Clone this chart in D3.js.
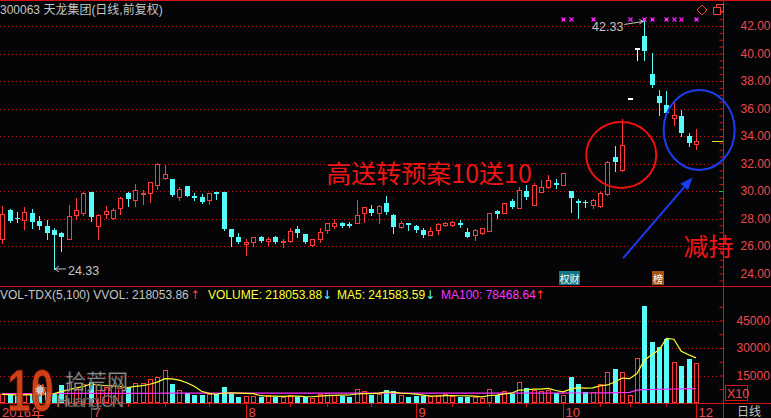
<!DOCTYPE html>
<html><head><meta charset="utf-8">
<script src="https://cdn.jsdelivr.net/npm/d3@7"></script>
<style>html,body{margin:0;padding:0;background:#050507;overflow:hidden}</style>
</head><body><svg id="c" width="771" height="418"></svg>
<script>
// ---------- data ----------
const open  = [26.51,28.62,28.06,27.89,28.43,27.84,27.46,27.16,26.92,26.51,28.25,28.38,29.93,27.48,28.33,28.01,28.74,29.83,29.35,29.79,29.88,30.44,30.97,30.85,29.54,30.37,29.64,29.59,29.35,29.91,29.93,27.21,26.68,26.12,26.27,26.63,26.39,26.68,26.29,26.39,27.21,26.87,26.05,26.49,27.16,27.46,27.65,27.58,27.65,28.43,28.67,28.43,29.10,28.26,27.36,27.65,27.48,27.16,26.80,27.16,27.51,27.53,27.70,27.04,26.80,26.92,27.12,28.57,28.43,29.27,28.74,30.02,28.98,29.95,30.32,30.61,30.44,30.00,29.30,29.23,28.98,28.91,29.78,32.50,31.53,36.69,40.36,41.27,38.51,36.91,36.25,35.28,35.45,34.00,33.42];
const high  = [28.91,28.68,28.50,28.86,28.69,28.18,27.89,27.29,27.04,28.98,29.47,29.95,29.93,28.30,28.91,28.79,29.59,29.95,30.51,30.07,30.68,32.01,31.89,30.85,30.32,30.37,29.88,29.78,29.88,29.91,29.93,27.21,26.92,26.51,26.68,26.70,26.63,26.73,26.53,27.29,27.46,26.87,26.49,27.29,27.70,27.94,27.77,27.72,29.35,28.86,28.98,28.98,29.64,28.33,27.85,27.70,27.53,27.33,27.36,27.70,27.77,27.85,27.89,27.29,27.21,27.33,28.43,28.62,29.10,29.40,30.32,30.44,30.61,30.80,31.16,30.85,31.33,30.00,29.40,29.35,29.40,29.95,32.21,33.27,35.21,36.69,40.36,42.33,40.01,37.35,37.27,36.57,35.89,34.24,34.51];
const low   = [26.19,27.75,27.77,27.24,27.33,27.21,26.51,24.33,25.64,26.50,27.96,28.26,27.84,26.51,28.01,27.96,28.33,28.91,28.93,29.05,29.23,30.12,30.85,29.64,29.35,29.64,29.35,29.10,29.05,29.40,27.16,26.00,26.24,25.35,26.00,26.30,26.07,26.24,25.95,26.32,26.68,26.24,26.00,26.32,26.92,27.29,27.36,27.36,27.65,27.77,28.26,27.65,28.33,26.97,27.29,27.17,27.04,26.63,26.80,26.87,27.46,27.46,27.41,26.68,26.44,26.87,27.12,28.06,28.38,28.74,28.74,29.40,28.98,29.95,30.20,30.20,30.44,28.50,28.01,28.86,28.74,28.86,29.71,31.48,31.48,36.69,39.50,39.53,37.54,35.53,35.53,34.80,34.00,33.27,33.03];
const close = [28.33,27.82,27.99,28.45,27.75,27.46,26.92,26.80,26.68,28.18,28.64,29.88,28.09,28.28,28.55,28.62,29.52,29.40,30.07,29.88,30.68,31.96,31.21,29.71,30.12,29.64,29.52,29.23,29.83,29.79,27.21,26.68,26.32,26.32,26.68,26.36,26.53,26.29,26.36,27.09,26.92,26.29,26.49,27.04,27.65,27.70,27.46,27.46,28.26,28.81,28.43,28.91,28.50,27.36,27.65,27.51,27.16,26.80,27.12,27.58,27.65,27.77,27.53,26.68,27.16,27.29,28.43,28.33,29.10,28.86,30.07,29.54,30.44,30.32,30.80,30.44,31.33,29.47,29.15,29.10,29.35,29.88,32.13,32.13,33.35,36.69,40.36,40.21,37.71,36.38,35.70,35.53,34.19,33.47,33.64];
// volume in axis units (x10)
const volume = [4750,4400,4000,4750,5200,4800,6000,5100,9800,10900,9000,10500,11600,7300,8700,9100,8200,8700,10700,10700,12900,14000,18000,10400,7100,5600,4500,4400,4700,4700,8900,5300,3450,3800,4000,3300,4400,3300,3300,4400,3300,3300,2700,5100,5450,4400,3600,3300,7800,6350,4400,5100,6900,6400,4200,3300,3600,4000,3600,4200,4700,4000,3300,3300,3300,2700,7800,4400,6700,5100,11300,8000,6900,6400,7300,5450,4400,14350,10350,6000,6000,10200,16700,18500,16700,4200,24350,52900,33450,30350,34900,22200,20200,24000,21805];
const ma100 = [5150,5150,5160,5160,5170,5170,5180,5180,5190,5200,5210,5220,5230,5230,5240,5250,5260,5270,5280,5290,5300,5320,5340,5350,5360,5370,5370,5380,5380,5380,5390,5390,5390,5400,5400,5400,5400,5400,5400,5400,5400,5400,5400,5400,5400,5400,5400,5400,5410,5410,5410,5410,5410,5410,5410,5410,5410,5410,5410,5410,5410,5410,5410,5410,5410,5410,5420,5420,5420,5420,5430,5430,5430,5430,5440,5440,5440,5450,5450,5460,5460,5470,5500,5620,5740,5760,7000,7250,7350,7450,7550,7650,7720,7790,7847];
const priceTicks = [42,40,38,36,34,32,30,28,26,24];
const volTicks = [45000,30000,15000];
const monthStart = [12,33,56,76,94];
const monthLabels = ["7","8","9","10","12"];
const weekTicks = [17,22,28,39,44,50,61,66,71,81,85,90];
const markBold = [76,80,87,88,90,94];
const markThin = [77,85,91,92];
const extremes = [{i:87,v:42.33,kind:"high"},{i:7,v:24.33,kind:"low"}];
const sideLevels = [{v:30.0,color:"#20c020"}];
const headerParts = [
  {t:"VOL-TDX(5,100) VVOL: 218053.86", c:"#c4c4c4", x:0},
  {t:"↑", c:"#ff3a3a", x:190},
  {t:"VOLUME: 218053.88", c:"#ffff30", x:208},
  {t:"↓", c:"#54fcfc", x:322},
  {t:"MA5: 241583.59", c:"#ffff30", x:337},
  {t:"↓", c:"#54fcfc", x:425},
  {t:"MA100: 78468.64", c:"#ff30ff", x:441},
  {t:"↑", c:"#ff3a3a", x:535}
];
// annotations in data coordinates (candle index, price)
const noteText = [{t:"高送转预案10送10", i:43.9, p:30.58}, {t:"减持", i:92.3, p:25.27}];
const noteCircles = [{i:83.87, p:32.62, rx:35, ry:33, c:"#f01010"}, {i:94.43, p:34.44, rx:35.5, ry:40, c:"#1c3cf0"}];
const noteArrow = {from:[84.1,25.1], to:[93.55,31.0], c:"#1c3cf0"};

// ---------- drawing ----------
const W=771,H=418;
const BG="#050507", RED="#ff3a3a", CYAN="#54fcfc", GRID="#c81414", LINE="#d41414", AX="#f04848", GRAY="#c4c4c4";
const FONT="'Liberation Sans', Arial, 'Noto Sans CJK SC', sans-serif";
const svg=d3.select("#c");
svg.append("rect").attr("width",W).attr("height",H).attr("fill",BG);

const x=d3.scaleLinear().domain([0,94]).range([2.3,696]);
const y=d3.scaleLinear().domain([24,42]).range([273.5,26]);
const yv=d3.scaleLinear().domain([0,45000]).range([403,320.5]);
const px=i=>Math.round(x(i));
const AXX=723.5;

const frame=svg.append("g").attr("shape-rendering","crispEdges");
priceTicks.filter(p=>p>24).forEach(p=>{
  const yy=Math.round(y(p))+0.5;
  frame.append("line").attr("x1",0).attr("x2",720).attr("y1",yy).attr("y2",yy).attr("stroke",GRID).attr("stroke-dasharray","1,3");
});
volTicks.forEach(v=>{
  const yy=Math.round(yv(v))+0.5;
  frame.append("line").attr("x1",0).attr("x2",720).attr("y1",yy).attr("y2",yy).attr("stroke",GRID).attr("stroke-dasharray","1,3");
});
[0.5,286.5,403.5].forEach(yy=>frame.append("line").attr("x1",0).attr("x2",W).attr("y1",yy).attr("y2",yy).attr("stroke",LINE));
frame.append("line").attr("x1",AXX).attr("x2",AXX).attr("y1",0).attr("y2",H).attr("stroke",LINE);

svg.append("g").attr("transform",`translate(${AXX},0)`)
  .call(d3.axisLeft(y).tickValues(d3.range(23.5,43.01,0.5)).tickSize(4).tickFormat(""))
  .call(g=>{g.select(".domain").remove();g.selectAll("line").attr("stroke",LINE);});
svg.append("g").attr("transform",`translate(${AXX},0)`)
  .call(d3.axisLeft(yv).tickValues(d3.range(7500,52501,7500)).tickSize(4).tickFormat(""))
  .call(g=>{g.select(".domain").remove();g.selectAll("line").attr("stroke",LINE);});
svg.append("g").attr("transform",`translate(${AXX},0)`)
  .call(d3.axisRight(y).tickValues(priceTicks).tickSize(0).tickPadding(17).tickFormat(d3.format(".2f")))
  .call(g=>{g.select(".domain").remove();g.attr("font-family",FONT).attr("font-size",12);g.selectAll("text").attr("fill",AX);});
svg.append("g").attr("transform",`translate(${AXX},0)`)
  .call(d3.axisRight(yv).tickValues(volTicks).tickSize(0).tickPadding(13).tickFormat(d3.format("d")))
  .call(g=>{g.select(".domain").remove();g.attr("font-family",FONT).attr("font-size",12);g.selectAll("text").attr("fill",AX);});
frame.append("rect").attr("x",725.5).attr("y",385.5).attr("width",22).attr("height",15).attr("fill","none").attr("stroke",LINE);
svg.append("text").text("X10").attr("x",727).attr("y",398).attr("font-family",FONT).attr("font-size",12.5).attr("fill",AX);

monthStart.forEach((m,k)=>{
  const xx=px(m)+0.5;
  frame.append("line").attr("x1",xx).attr("x2",xx).attr("y1",403).attr("y2",H).attr("stroke",LINE);
  svg.append("text").text(monthLabels[k]).attr("x",xx+2).attr("y",416.5).attr("font-family",FONT).attr("font-size",13).attr("fill",AX);
});
weekTicks.forEach(w=>{
  const xx=px(w)+0.5;
  frame.append("line").attr("x1",xx).attr("x2",xx).attr("y1",403).attr("y2",407).attr("stroke",LINE);
});
svg.append("text").text("2016年").attr("x",2).attr("y",416.5).attr("font-family",FONT).attr("font-size",13).attr("fill",AX);
svg.append("text").text("日线").attr("x",737).attr("y",416).attr("font-family",FONT).attr("font-size",12).attr("fill",GRAY);

svg.append("text").text("300063 天龙集团(日线,前复权)").attr("x",0).attr("y",14).attr("font-family",FONT).attr("font-size",12).attr("fill",GRAY);
headerParts.forEach(h=>svg.append("text").text(h.t).attr("x",h.x).attr("y",299).attr("font-family",h.t.length===1?"'DejaVu Sans'":FONT).attr("font-size",12).attr("fill",h.c));

const idx=d3.range(close.length);
const isUp=i=>close[i]>open[i]||(close[i]===open[i]&&(i===0||close[i]>=close[i-1]));
const vg=svg.append("g").attr("shape-rendering","crispEdges");
idx.forEach(i=>{
  const c=px(i), top=Math.round(yv(volume[i]));
  if(isUp(i)) vg.append("rect").attr("x",c-1.5).attr("y",top+0.5).attr("width",4).attr("height",403-top-1).attr("fill",BG).attr("stroke",RED).attr("stroke-width",1.3);
  else vg.append("rect").attr("x",c-2).attr("y",top).attr("width",5).attr("height",403-top).attr("fill",CYAN);
});
const ma5=volume.map((v,i)=>d3.mean(volume.slice(Math.max(0,i-4),i+1)));
const lv=d3.line().x((d,i)=>x(i)).y(d=>yv(d));
svg.append("path").attr("d",lv(ma100)).attr("fill","none").attr("stroke","#ff30ff").attr("stroke-width",1.2);
svg.append("path").attr("d",lv(ma5)).attr("fill","none").attr("stroke","#ffff30").attr("stroke-width",1.2);

const cg=svg.append("g").attr("shape-rendering","crispEdges");
idx.forEach(i=>{
  const c=px(i), up=close[i]>open[i], dn=close[i]<open[i];
  const col=up?RED:(dn?CYAN:"#ffffff");
  cg.append("line").attr("x1",c+0.5).attr("x2",c+0.5).attr("y1",Math.round(y(high[i]))).attr("y2",Math.round(y(low[i]))+1).attr("stroke",col);
  const top=Math.round(y(Math.max(open[i],close[i]))), bot=Math.round(y(Math.min(open[i],close[i])));
  if(up) cg.append("rect").attr("x",c-1.5).attr("y",top+0.5).attr("width",4).attr("height",Math.max(bot-top,1)).attr("fill",BG).attr("stroke",col).attr("stroke-width",1.2);
  else if(dn) cg.append("rect").attr("x",c-2).attr("y",top).attr("width",5).attr("height",Math.max(bot-top,1)).attr("fill",col);
  else cg.append("rect").attr("x",c-2).attr("y",top-1).attr("width",5).attr("height",2).attr("fill",col);
});

const mg=svg.append("g");
markBold.concat(markThin).forEach(i=>{
  const c=px(i)+0.5, yy=19.5;
  mg.append("path").attr("d",`M${c-2},${yy-2}L${c+2},${yy+2}M${c+2},${yy-2}L${c-2},${yy+2}`).attr("stroke","#ff20ff").attr("stroke-width",1.1);
  if(markBold.includes(i)) mg.append("rect").attr("x",c-1.5).attr("y",yy-1.5).attr("width",3).attr("height",3).attr("fill","#ff20ff");
});
svg.append("path").attr("d","M702,5L707,10L702,15L697,10Z").attr("fill","none").attr("stroke",RED);
svg.append("path").attr("d","M713.5,7.5h7v7h-7zM716.5,7.5v-3h7v7h-3").attr("fill","none").attr("stroke",RED).attr("shape-rendering","crispEdges");

svg.append("line").attr("x1",712).attr("x2",723).attr("y1",Math.round(y(close[close.length-1]))+0.5).attr("y2",Math.round(y(close[close.length-1]))+0.5).attr("stroke","#e0e020");
sideLevels.forEach(s=>svg.append("line").attr("x1",719).attr("x2",723).attr("y1",Math.round(y(s.v))+0.5).attr("y2",Math.round(y(s.v))+0.5).attr("stroke",s.color));

extremes.forEach(e=>{
  const c=x(e.i), yy=y(e.v);
  if(e.kind==="high"){
    svg.append("text").text(e.v.toFixed(2)).attr("x",c-21).attr("y",yy+10).attr("text-anchor","end").attr("font-family",FONT).attr("font-size",12.5).attr("fill",GRAY);
    svg.append("path").attr("d",`M${c-20},${yy+3}L${c-1},${yy}M${c-5},${yy-2}L${c-1},${yy}L${c-5},${yy+2.5}`).attr("fill","none").attr("stroke",GRAY);
  } else {
    svg.append("text").text(e.v.toFixed(2)).attr("x",c+14).attr("y",yy+6).attr("font-family",FONT).attr("font-size",12.5).attr("fill",GRAY);
    svg.append("path").attr("d",`M${c+12},${yy}L${c+1},${yy}M${c+5},${yy-3}L${c+1},${yy}L${c+5},${yy+3}`).attr("fill","none").attr("stroke",GRAY);
  }
});

svg.append("rect").attr("x",px(75)+3).attr("y",271).attr("width",21).attr("height",14).attr("fill","#137684");
svg.append("text").text("权财").attr("x",px(75)+3.5).attr("y",283).attr("font-family","'Noto Sans CJK SC'").attr("font-size",10).attr("fill","#ffffff");
svg.append("rect").attr("x",px(88)).attr("y",271).attr("width",12).attr("height",14).attr("fill","#a4520c");
svg.append("text").text("榜").attr("x",px(88)+1).attr("y",283).attr("font-family","'Noto Sans CJK SC'").attr("font-size",10).attr("fill","#ffffff");

noteCircles.forEach(n=>svg.append("ellipse").attr("cx",x(n.i)).attr("cy",y(n.p)).attr("rx",n.rx).attr("ry",n.ry).attr("fill","none").attr("stroke",n.c).attr("stroke-width",2));
noteText.forEach(n=>svg.append("text").text(n.t).attr("x",x(n.i)).attr("y",y(n.p)).attr("font-family","'Noto Sans CJK SC'").attr("font-size",25).attr("fill","#f01414"));
{
  const x1=x(noteArrow.from[0]), y1=y(noteArrow.from[1]), x2=x(noteArrow.to[0]), y2=y(noteArrow.to[1]);
  const ang=Math.atan2(y2-y1,x2-x1), L=13, Wd=5;
  const bx=x2-L*Math.cos(ang), by=y2-L*Math.sin(ang);
  svg.append("line").attr("x1",x1).attr("y1",y1).attr("x2",bx).attr("y2",by).attr("stroke",noteArrow.c).attr("stroke-width",2);
  svg.append("path").attr("d",`M${x2},${y2}L${bx-Wd*Math.sin(ang)},${by+Wd*Math.cos(ang)}L${bx+Wd*Math.sin(ang)},${by-Wd*Math.cos(ang)}Z`).attr("fill",noteArrow.c);
}

const wm=svg.append("g").attr("opacity",0.92);
wm.append("text").text("10").attr("x",7).attr("y",411).attr("font-family",FONT).attr("font-weight","bold").attr("font-size",60).attr("textLength",47).attr("lengthAdjust","spacingAndGlyphs").attr("fill","#e0461c").attr("stroke","#4a0e00").attr("stroke-width",1);
wm.append("circle").attr("cx",40).attr("cy",390).attr("r",5).attr("fill","#d8d8d8").attr("stroke","#e0461c").attr("stroke-width",3).attr("stroke-dasharray","2,1.5");
wm.append("text").text("拾荒网").attr("x",65).attr("y",389).attr("font-family","'Noto Sans CJK SC'").attr("font-size",21).attr("fill","#b4b4b4").attr("stroke","#303030").attr("stroke-width",0.6);
wm.append("text").text("Huang.CN").attr("x",56).attr("y",407).attr("font-family",FONT).attr("font-size",17).attr("textLength",68).attr("fill","#b0b0b0").attr("stroke","#303030").attr("stroke-width",0.5);
</script></body></html>
